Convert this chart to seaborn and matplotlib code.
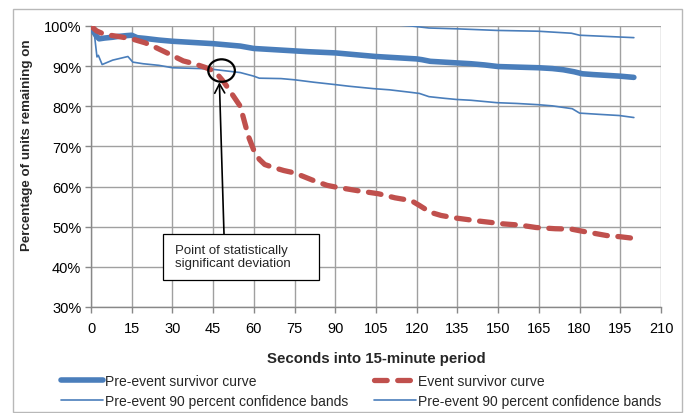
import matplotlib
matplotlib.use("Agg")
import matplotlib.pyplot as plt
import seaborn as sns
import numpy as np
from matplotlib.patches import Ellipse, Rectangle
from matplotlib.lines import Line2D

# ---- data ----
pre_t = [0, 1, 2, 3, 5, 8, 10, 13, 15, 17, 20, 25, 30, 35, 40, 45, 50, 55, 60, 65, 70, 75, 80,
         90, 95, 100, 105, 110, 115, 120, 122, 125, 130, 135, 140, 145, 150, 155, 160, 165, 170,
         174, 178, 181, 185, 190, 195, 200]
pre_v = [100, 98.5, 97.5, 96.8, 97.0, 97.2, 97.4, 97.6, 97.7, 97.1, 96.9, 96.5, 96.2, 96.0, 95.8,
         95.6, 95.3, 95.0, 94.4, 94.2, 94.0, 93.8, 93.6, 93.3, 93.0, 92.7, 92.4, 92.2, 92.0, 91.8,
         91.6, 91.2, 91.0, 90.8, 90.6, 90.3, 89.9, 89.8, 89.7, 89.6, 89.4, 89.1, 88.6, 88.1, 87.9,
         87.7, 87.5, 87.2]

upper_t = [0, 2, 10, 30, 60, 90, 110, 118, 124.5, 134.6, 149.5, 164.7, 177, 180, 190, 200]
upper_v = [100, 101.0, 101.5, 101.5, 101.2, 100.8, 100.4, 100.0, 99.5, 99.3, 98.9, 98.7, 98.2,
           97.7, 97.4, 97.1]

lower_t = [0, 1, 1.4, 2.2, 2.7, 4.1, 8, 13.6, 15.4, 19.2, 25, 30, 35, 40, 45, 50, 55, 60, 62,
           70, 75, 82, 90, 95, 104, 110, 117.5, 121, 124.5, 130, 134.6, 140, 149.5, 157, 164.7,
           170, 177.3, 180, 187, 194.6, 200]
lower_v = [100, 99.5, 97, 92.3, 92.7, 90.4, 91.5, 92.4, 91.0, 90.6, 90.2, 89.6, 89.5, 89.4, 89.2,
           88.8, 88.4, 87.5, 87.0, 86.9, 86.6, 86.0, 85.4, 85.0, 84.4, 84.1, 83.5, 83.2, 82.4,
           82.0, 81.7, 81.5, 80.9, 80.7, 80.4, 80.1, 79.4, 78.3, 78.0, 77.7, 77.2]

event_t = [0, 2, 5, 10, 15, 20, 24, 28, 31, 34, 38, 42, 45, 47, 49, 52, 55, 58, 60, 62, 64, 67,
           71, 75, 82, 87, 90, 98, 106, 112, 118, 121, 125, 129, 134, 143, 152, 158, 164, 171,
           177, 180, 185, 190, 195, 200]
event_v = [100, 98.8, 97.9, 97.4, 96.8, 95.8, 94.6, 93.3, 92.3, 91.3, 90.6, 89.7, 88.9, 87.6,
           86.0, 83.0, 80.0, 72.5, 69.0, 66.8, 65.5, 64.8, 64.0, 63.4, 61.5, 60.3, 59.9, 59.0,
           58.2, 57.2, 56.5, 55.3, 53.6, 52.8, 52.2, 51.4, 50.7, 50.4, 49.8, 49.5, 49.4, 49.0,
           48.4, 47.8, 47.5, 47.1]

x_ticks = list(range(0, 211, 15))
y_ticks = list(range(30, 101, 10))

labels = ["Pre-event survivor curve", "Event survivor curve",
          "Pre-event 90 percent confidence bands", "Pre-event 90 percent confidence bands"]

# ---- style ----
sns.set_theme(style="white")
plt.rcParams['font.family'] = ['Liberation Sans', 'DejaVu Sans']

BLUE = "#4a7ebb"
RED = "#c0504d"
GRID = "#a0a0a0"

fig = plt.figure(figsize=(6.84, 4.14), dpi=100)
ax = fig.add_axes([91/684, 1-308/414, (661-91)/684, (308-27)/414])

sns.lineplot(x=upper_t, y=upper_v, ax=ax, color=BLUE, lw=1.2, sort=False, zorder=3)
sns.lineplot(x=lower_t, y=lower_v, ax=ax, color=BLUE, lw=1.2, sort=False, zorder=3)
sns.lineplot(x=pre_t, y=pre_v, ax=ax, color=BLUE, lw=4.0, sort=False, zorder=4,
             solid_capstyle='round')
sns.lineplot(x=event_t, y=event_v, ax=ax, color=RED, lw=3.8, sort=False, zorder=5)
ev_line = ax.lines[-1]
ev_line.set_dashes((2.4, 2.0))
ev_line.set_dash_capstyle('round')

ax.set_xlim(0, 210)
ax.set_ylim(30, 100)
ax.set_xticks(x_ticks)
ax.set_yticks(y_ticks)
ax.set_xticklabels([str(t) for t in x_ticks], fontsize=10.5)
ax.set_yticklabels([f"{t}%" for t in y_ticks], fontsize=10.5)
ax.grid(True, color=GRID, lw=1.0)
ax.set_axisbelow(True)
for s in ["top", "right"]:
    ax.spines[s].set_visible(False)
for s in ["left", "bottom"]:
    ax.spines[s].set_color("#888888")
    ax.spines[s].set_linewidth(1.0)
ax.tick_params(axis='both', which='both', direction='out', length=4, width=1.0,
               color="#888888", labelcolor="black")
ax.tick_params(axis='x', pad=6)
ax.tick_params(axis='y', pad=3)
ax.tick_params(left=True, bottom=True)

ax.set_xlabel("Seconds into 15-minute period", fontsize=10.8, fontweight='bold')
ax.set_ylabel("Percentage of units remaining on", fontsize=9.6, fontweight='bold')
ax.xaxis.set_label_coords(0.5, -0.155)
ax.yaxis.set_label_coords(-0.102, 0.58)

# annotation
ax.add_patch(Ellipse((48.1, 88.9), 9.8, 5.6, fill=False, ec='black', lw=1.6, zorder=7))
ax.annotate("", xy=(47.3, 86.0), xytext=(49.0, 48.2),
            arrowprops=dict(arrowstyle='->,head_length=0.55,head_width=0.3', lw=1.2,
                            color='black', shrinkA=0, shrinkB=0), zorder=7)
ax.add_patch(Rectangle((26.5, 36.7), 84.0-26.5, 48.2-36.7, fc='white', ec='black', lw=0.9,
                       zorder=6))
ax.text(30.9, 42.5, "Point of statistically\nsignificant deviation", fontsize=9.5,
        ha='left', va='center', zorder=8, linespacing=1.1)

# legend
handles = [Line2D([], [], color=BLUE, lw=4.0),
           Line2D([], [], color=BLUE, lw=1.2),
           Line2D([], [], color=RED, lw=3.8, dashes=(2.4, 2.0), dash_capstyle='round'),
           Line2D([], [], color=BLUE, lw=1.2)]
leg_labels = [labels[0], labels[2], labels[1], labels[3]]
fig.legend(handles, leg_labels, ncol=2, loc='upper left',
           bbox_to_anchor=(61/684, 1-375/414), frameon=False, fontsize=10,
           handlelength=3.0, handletextpad=0.15, columnspacing=1.9, labelspacing=0.45,
           borderaxespad=0, borderpad=0)

# chart border
fig.patches.append(Rectangle((13/684, 1/414), (682-13)/684, (403-0)/414,
                             transform=fig.transFigure, fill=False, ec="#b8b8b8", lw=1.0))

fig.savefig("out.png", dpi=100)
